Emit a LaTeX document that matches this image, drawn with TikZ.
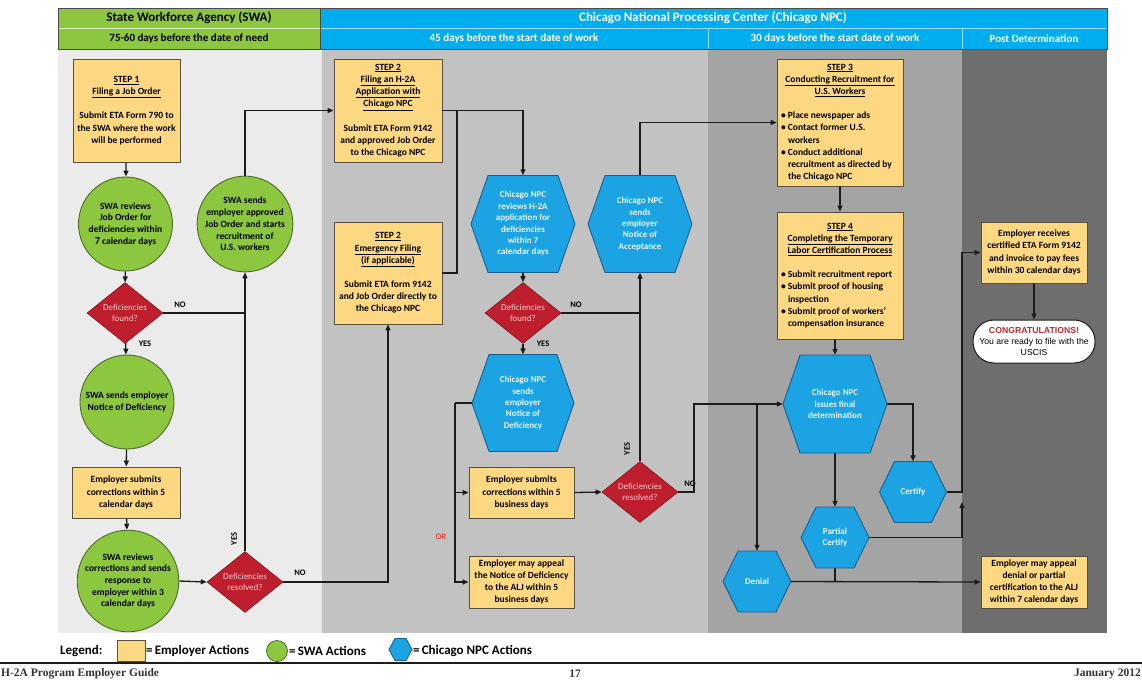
\documentclass[tikz,border=0pt]{standalone}
\usepackage{fontspec}
\setmainfont{Carlito}
\newfontfamily\arialf{Liberation Sans}
\newfontfamily\serff{Liberation Serif}
\usetikzlibrary{arrows.meta,shapes.geometric}
\definecolor{swabg}{HTML}{EBEBEB}
\definecolor{npcbgA}{HTML}{C2C2C2}
\definecolor{npcbgB}{HTML}{A4A4A4}
\definecolor{postbg}{HTML}{6E6E6E}
\definecolor{hdrgreen}{HTML}{8DC63F}
\definecolor{hdrblue}{HTML}{00AEEF}
\definecolor{hdrframe}{HTML}{4A4A4A}
\definecolor{empfill}{HTML}{FDD882}
\definecolor{empline}{HTML}{5A5040}
\definecolor{swafill}{HTML}{8DC63F}
\definecolor{swaline}{HTML}{4F6B2A}
\definecolor{npcfill}{HTML}{1BA3E3}
\definecolor{npcline}{HTML}{1D5F8C}
\definecolor{decfill}{HTML}{BE1E2D}
\definecolor{decline}{HTML}{7A1219}
\definecolor{dectext}{HTML}{F6CACA}
\definecolor{hextext}{HTML}{EAF6FD}
\definecolor{conn}{HTML}{1C1C1C}
\definecolor{orlbl}{HTML}{E8413C}
\definecolor{congred}{HTML}{C0272D}
\definecolor{foot}{HTML}{333333}
\newcommand\hexnode[7]{%
  \filldraw[hexshape] (#2-#4,#3) -- (#2-#4+#6,#3-#5) -- (#2+#4-#6,#3-#5) -- (#2+#4,#3) -- (#2+#4-#6,#3+#5) -- (#2-#4+#6,#3+#5) -- cycle;
  \node[hexlabel, minimum width={2*#4}, minimum height={2*#5}] (#1) at (#2,#3) {#7};}
\newcommand\bulln[1]{\makebox[118pt][l]{\textbullet\ #1}}
\newcommand\contn[1]{\makebox[118pt][l]{\hspace*{7pt}#1}}
\begin{document}
\begin{tikzpicture}[x=1pt,y=-1pt,
  emp/.style={draw=empline, line width=0.9pt, fill=empfill, inner sep=0pt, align=center, font=\bfseries\fontsize{9.5}{12.2}\selectfont, text=black},
  swa/.style={circle, draw=swaline, line width=0.9pt, fill=swafill, inner sep=0pt, minimum size=94pt, align=center, font=\bfseries\fontsize{9.5}{11.7}\selectfont, text=black},
  dec/.style={diamond, draw=decline, line width=0.6pt, fill=decfill, inner sep=0pt, minimum width=76pt, minimum height=50pt, align=center, text=dectext, font=\fontsize{9}{11}\selectfont},
  hexshape/.style={fill=npcfill, draw=npcline, line width=0.9pt},
  hexlabel/.style={inner sep=0pt, align=center, text=hextext, font=\bfseries\fontsize{9}{11.4}\selectfont},
  lbl/.style={font=\bfseries\fontsize{8.5}{10}\selectfont, text=black, inner sep=0pt},
  arr/.style={draw=conn, line width=1.3pt, -{Triangle[length=6pt,width=5pt]}},
  ln/.style={draw=conn, line width=1.3pt},
  hdrA/.style={font=\bfseries\fontsize{13}{14}\selectfont, inner sep=0pt},
  hdrB/.style={font=\bfseries\fontsize{11}{12}\selectfont, inner sep=0pt},
  legtxt/.style={font=\bfseries\fontsize{13}{14}\selectfont, inner sep=0pt, anchor=west, text=black},
  foottxt/.style={font=\serff\bfseries\fontsize{11.5}{12}\selectfont, inner sep=0pt, text=foot}]
\useasboundingbox (0,0) rectangle (1142,681);
\fill[white] (0,0) rectangle (1142,681);
% column backgrounds
\fill[swabg] (58,49) rectangle (322,633);
\fill[npcbgA] (322,49) rectangle (708,633);
\fill[npcbgB] (708,49) rectangle (962,633);
\fill[postbg] (962,49) rectangle (1107,633);
% header
\fill[hdrgreen] (58,8) rectangle (320,49);
\fill[hdrblue] (320,8) rectangle (1107,49);
\draw[white!65!hdrgreen, line width=1pt] (58,28.5) -- (320,28.5);
\draw[white!60!hdrblue, line width=1pt] (320,28.5) -- (1107,28.5) (708,28.5) -- (708,49) (962,28.5) -- (962,49);
\draw[hdrframe, line width=0.8pt] (58,8) rectangle (1107,49) (320,8) -- (320,49);
\node[hdrA] (hswa) at (189,18) {State Workforce Agency (SWA)};
\node[hdrB] (hswad) at (189,39) {75-60 days before the date of need};
\node[hdrA, text=white] (hnpc) at (713,18) {Chicago National Processing Center (Chicago NPC)};
\node[hdrB, text=white] (h45) at (514,39) {45 days before the start date of work};
\node[hdrB, text=white] (h30) at (835,39) {30 days before the start date of work};
\node[hdrB, text=white] (hpost) at (1034,39) {Post Determination};
% SWA column
\node[emp, minimum width=107, minimum height=103] (step1) at (126.5,110.5) {\underline{STEP 1}\\\underline{Filing a Job Order}\\[12pt]Submit ETA Form 790 to\\the SWA where the work\\will be performed};
\node[swa] (c1) at (125.5,224) {SWA reviews\\Job Order for\\deficiencies within\\{\fontsize{10.5}{11.7}\selectfont 7} calendar days};
\node[dec] (d1) at (125,313) {Deficiencies\\found?};
\node[swa] (c2) at (127,402) {SWA sends employer\\Notice of Deficiency};
\node[emp, minimum width=108, minimum height=51] (e1) at (126,492.5) {Employer submits\\corrections within 5\\calendar days};
\node[swa] (c3) at (128,581) {SWA reviews\\corrections and sends\\response to\\employer within 3\\calendar days};
\node[dec] (d2) at (245,582) {Deficiencies\\resolved?};
\node[swa] (c4) at (245,224) {SWA sends\\employer approved\\Job Order and starts\\recruitment of\\U.S. workers};
% 45 days column
\node[emp, minimum width=108, minimum height=103] (step2) at (388,110.5) {\underline{STEP 2}\\\underline{Filing an H-2A}\\\underline{Application with}\\\underline{Chicago NPC}\\[12pt]Submit ETA Form 9142\\and approved Job Order\\to the Chicago NPC};
\node[emp, minimum width=108, minimum height=102] (emerg) at (388,273) {\underline{STEP 2}\\\underline{Emergency Filing}\\\underline{(if applicable)}\\[12pt]Submit ETA form 9142\\and Job Order directly to\\the Chicago NPC};
\hexnode{h1}{523}{224}{52}{48.5}{17}{Chicago NPC\\reviews H-2A\\application for\\deficiencies\\within 7\\calendar days}
\hexnode{h2}{640}{224}{52}{48.5}{17}{Chicago NPC\\sends\\employer\\Notice of\\Acceptance}
\node[dec] (d3) at (523,313) {Deficiencies\\found?};
\hexnode{h3}{523}{403}{51}{48.5}{17}{Chicago NPC\\sends\\employer\\Notice of\\Deficiency}
\node[emp, minimum width=105, minimum height=51] (e2) at (521.5,492.5) {Employer submits\\corrections within 5\\business days};
\node[emp, minimum width=105, minimum height=52] (e3) at (521.5,582) {Employer may appeal\\the Notice of Deficiency\\to the ALJ within 5\\business days};
\node[dec] (d4) at (640,492) {Deficiencies\\resolved?};
% 30 days column
\node[emp, minimum width=126, minimum height=127] (step3) at (840,122.5) {\underline{STEP 3}\\\underline{Conducting Recruitment for}\\\underline{U.S. Workers}\\[12pt]\bulln{Place newspaper ads}\\\bulln{Contact former U.S.}\\\contn{workers}\\\bulln{Conduct additional}\\\contn{recruitment as directed by}\\\contn{the Chicago NPC}};
\node[emp, minimum width=126, minimum height=127] (step4) at (840,275.5) {\underline{STEP 4}\\\underline{Completing the Temporary}\\\underline{Labor Certification Process}\\[12pt]\bulln{Submit recruitment report}\\\bulln{Submit proof of housing}\\\contn{inspection}\\\bulln{Submit proof of workers'}\\\contn{compensation insurance}};
\hexnode{h4}{835}{404}{52}{49}{17}{Chicago NPC\\issues final\\determination}
\hexnode{cert}{913}{492}{33.5}{30.5}{15}{Certify}
\hexnode{part}{835}{537.5}{34}{30.5}{15}{Partial\\Certify}
\hexnode{den}{757}{581.5}{34}{30.5}{15}{Denial}
% post determination
\node[emp, minimum width=106, minimum height=61] (e4) at (1034,252.5) {Employer receives\\certified ETA Form 9142\\and invoice to pay fees\\within 30 calendar days};
\node[draw=conn, line width=1pt, fill=white, rounded corners=21pt, minimum width=122, minimum height=43, inner sep=0pt, align=center, font=\arialf\fontsize{8.7}{10.8}\selectfont] (congr) at (1034,341.5) {{\color{congred}\bfseries CONGRATULATIONS!}\\You are ready to file with the\\USCIS};
\node[emp, minimum width=106, minimum height=52] (e5) at (1034,582) {Employer may appeal\\denial or partial\\certification to the ALJ\\within 7 calendar days};
% junction coordinates
\coordinate (j1) at (457,110.5);
\coordinate (j2) at (455,403);
\coordinate (j3) at (694,492);
\coordinate (j5) at (962,252.5);
\coordinate (j6) at (962,502);
% connectors SWA
\draw[arr] (step1) -- (c1);
\draw[arr] (c1) -- (d1);
\draw[arr] (d1) -- (c2);
\draw[arr] (c2) -- (e1);
\draw[arr] (e1) -- (c3);
\draw[arr] (c3.east) -- (d2.west);
\draw[arr] (d2.north) -- (c4.south);
\draw[ln] (d1.east) -- (d1.east -| c4.south);
\draw[arr] (c4.north) |- (step2.west);
\draw[arr] (d2.east) -| (emerg.south);
% connectors 45 days
\draw[arr] (step2.east) -| (h1.north);
\draw[ln] (emerg.east) -| (j1);
\draw[arr] (h1.south) -- (d3.north);
\draw[arr] (d3.south) -- (h3.north);
\draw[ln] (d3.east) -- (d3.east -| h2.south);
\draw[arr] (d4.north) -- (h2.south);
\draw[arr] (h2.north) |- (step3.west);
\draw[ln] (h3.west) -- (j2);
\draw[arr] (j2) |- (e2.west);
\draw[arr] (j2) |- (e3.west);
\draw[arr] (e2.east) -- (d4.west);
\draw[arr] (d4.east) -- (j3) |- (h4.west);
% connectors 30 days
\draw[arr] (step3.south) -- (step4.north);
\draw[arr] (h4.north |- step4.south) -- (h4.north);
\draw[arr] (h4.west -| den.north) -- (den.north);
\draw[arr] (h4.east) -| (cert.north);
\draw[arr] (h4.south) -- (part.north);
\draw[arr] (cert.east) -| (j5) -- (e4.west);
\draw[arr] (part.east) -| (j6);
\draw[ln] (part.south) -- (part.south |- den.east);
\draw[arr] (den.east) -- (e5.west);
\draw[arr] (e4.south) -- (congr.north);
% labels
\node[lbl] (no1) at (180,305) {NO};
\node[lbl] (yes1) at (145,344) {YES};
\node[lbl, rotate=90] (yes2) at (234,539) {YES};
\node[lbl] (no2) at (300,573) {NO};
\node[lbl] (no3) at (576,305) {NO};
\node[lbl] (yes3) at (543,344) {YES};
\node[lbl, rotate=90] (yes4) at (627,449) {YES};
\node[lbl] (no4) at (690,484) {NO};
\node[lbl, text=orlbl] (orl) at (441,537) {OR};
% legend
\node[legtxt] (leg) at (60,651) {Legend:};
\node[draw=empline, fill=empfill, line width=0.8pt, minimum width=28, minimum height=21, inner sep=0pt] (legE) at (131,651) {};
\node[legtxt] (legEt) at (146,651) {=\,Employer Actions};
\node[circle, draw=swaline, fill=swafill, line width=0.8pt, minimum size=21, inner sep=0pt] (legS) at (277,651) {};
\node[legtxt] (legSt) at (289,651) {=\,SWA Actions};
\hexnode{legH}{400.5}{649.5}{11.5}{11}{6}{}
\node[legtxt] (legHt) at (413,651) {=\,Chicago NPC Actions};
% footer
\draw[conn, line width=1.2pt] (0,663) -- (1142,663);
\node[foottxt, anchor=west] (f1) at (1,674) {H-2A Program Employer Guide};
\node[foottxt] (f2) at (575,674) {17};
\node[foottxt, anchor=east] (f3) at (1141,674) {January 2012};
\end{tikzpicture}
\end{document}
